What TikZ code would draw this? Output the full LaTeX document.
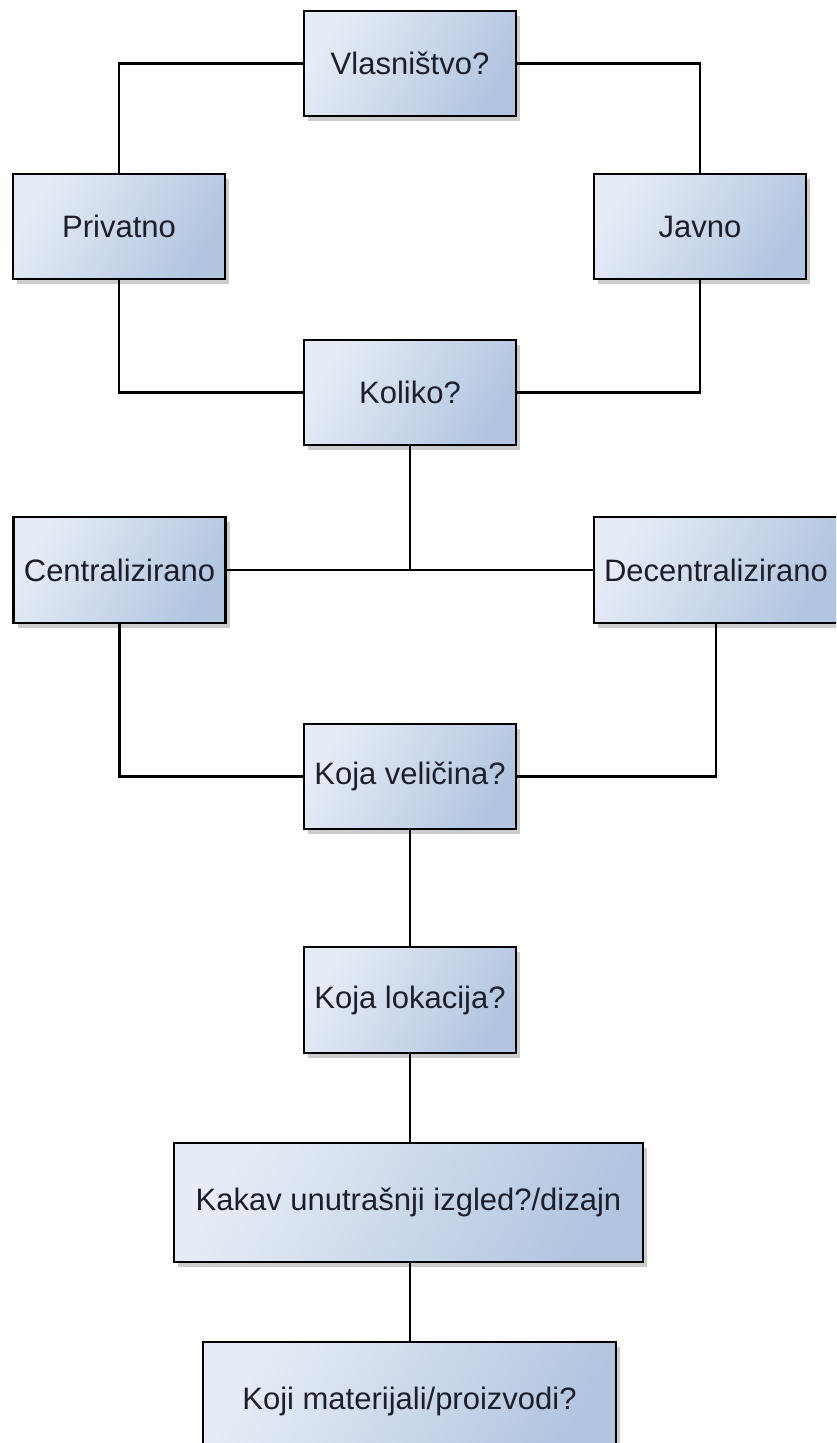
\documentclass[tikz,border=0pt]{standalone}
\usepackage{fontspec}
\setmainfont{Liberation Sans}
\usetikzlibrary{shadows}
\definecolor{boxlight}{HTML}{E6ECF6}
\definecolor{boxdark}{HTML}{B2C5E0}
\definecolor{txt}{HTML}{1E1E2A}
\tikzset{
  qbox/.style={draw=black, line width=2.6pt, rectangle, left color=boxlight, right color=boxdark,
    shading angle=60,
    minimum width=212pt, minimum height=105pt, inner sep=0pt, text=txt,
    font=\fontsize{31}{36}\selectfont,
    drop shadow={shadow xshift=4pt, shadow yshift=-5pt, opacity=0.2, fill=black}},
  link/.style={draw=black, line width=2.1pt}
}
\begin{document}
\begin{tikzpicture}[x=1pt,y=-1pt]
\useasboundingbox (0,0) rectangle (836,1443);
\clip (0,0) rectangle (836,1443);
\node[qbox] (vl) at (410,63.5) {Vlasništvo?};
\node[qbox] (pr) at (119,226.5) {Privatno};
\node[qbox] (ja) at (700,226.5) {Javno};
\node[qbox] (ko) at (410,392.5) {Koliko?};
\node[qbox, minimum height=106pt] (ce) at (119.5,570) {Centralizirano};
\node[qbox, minimum width=244pt, minimum height=106pt] (de) at (716,570) {Decentralizirano};
\node[qbox] (kv) at (410,776.5) {Koja veličina?};
\node[qbox, minimum height=106pt] (kl) at (410,1000) {Koja lokacija?};
\node[qbox, minimum width=469pt, minimum height=119pt] (ka) at (408.5,1202.5) {Kakav unutrašnji izgled?/dizajn};
\node[qbox, minimum width=413pt, minimum height=119pt] (km) at (409.5,1401.5) {Koji materijali/proizvodi?};
\draw[link] (vl.west) -| (pr.north);
\draw[link] (vl.east) -| (ja.north);
\draw[link] (pr.south) |- (ko.west);
\draw[link] (ja.south) |- (ko.east);
\draw[link] (ce.east) -- (de.west);
\coordinate (jn) at (ko.south |- ce.east);
\draw[link] (ko.south) -- (jn);
\draw[link] (ce.south) |- (kv.west);
\draw[link] (de.south) |- (kv.east);
\draw[link] (kv.south) -- (kl.north);
\draw[link] (kl.south) -- (kl.south |- ka.north);
\draw[link] (kl.south |- ka.south) -- (kl.south |- km.north);
\end{tikzpicture}
\end{document}
